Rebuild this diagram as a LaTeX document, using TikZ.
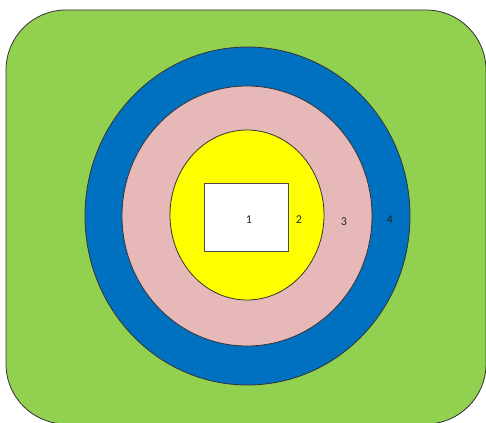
\documentclass[tikz,border=0pt]{standalone}
\usepackage{fontspec}
\setmainfont{Carlito}
\definecolor{grn}{HTML}{92D050}
\definecolor{blu}{HTML}{0070C0}
\definecolor{pnk}{HTML}{E6B9B8}
\definecolor{ylw}{HTML}{FFFF00}
\begin{document}
\begin{tikzpicture}[x=1pt,y=-1pt,
  ring/.style={draw=black!80,line width=0.8pt},
  lbl/.style={font=\fontsize{12}{14}\selectfont,text=black!85,inner sep=0pt}]
\useasboundingbox (0,0) rectangle (486,422);
\begin{scope}
\clip (0,0) rectangle (486,422);
\draw[ring,fill=grn,rounded corners=60pt] (6,10) rectangle (486,424);
\end{scope}
\draw[ring,fill=blu] (247.5,216) ellipse [x radius=162.5, y radius=169];
\draw[ring,fill=pnk] (247,216) ellipse [x radius=125, y radius=130];
\draw[ring,fill=ylw] (247,215) ellipse [x radius=77, y radius=85];
\node[draw=black!70,line width=0.8pt,fill=white,minimum width=84pt,minimum height=68pt,inner sep=0pt] (r1) at (246,217) {};
\node[lbl] (l1) at (249,220) {1};
\node[lbl] (l2) at (299,220) {2};
\node[lbl] (l3) at (344,222) {3};
\node[lbl] (l4) at (390,220) {4};
\end{tikzpicture}
\end{document}
